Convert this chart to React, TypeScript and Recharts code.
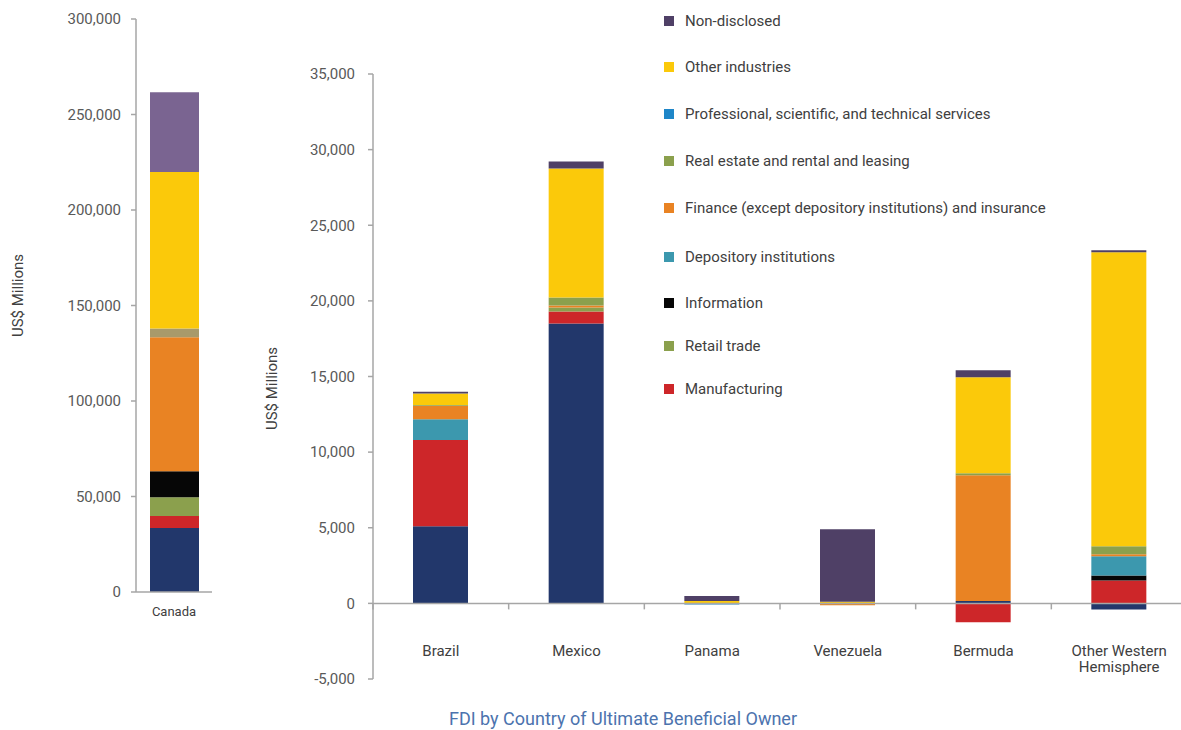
import React from "react";
import { BarChart, Bar, XAxis, YAxis, ReferenceLine, Legend, Label } from "recharts";

// Canada (left panel, own scale)
const canadaCategories = ["Canada"];
const canadaWholesale = [33500];
const canadaManufacturing = [6300];
const canadaRetail = [9800];
const canadaInformation = [13600];
const canadaDepository = [0];
const canadaFinance = [70200];
const canadaRealEstate = [4550];
const canadaProfessional = [0];
const canadaOther = [81900];
const canadaNonDisclosed = [41800];
const canadaTicks = [0, 50000, 100000, 150000, 200000, 250000, 300000];

// Other Western Hemisphere countries (right panel)
const countries = ["Brazil", "Mexico", "Panama", "Venezuela", "Bermuda", "Other Western Hemisphere"];
const wholesale = [5100, 18500, 0, 0, 150, -400];
const manufacturing = [5700, 790, 0, 0, -1250, 1520];
const retail = [0, 270, 0, 0, 0, 0];
const information = [0, 0, 0, 0, 0, 330];
const depository = [1370, 0, 0, 0, 0, 1260];
const finance = [900, 130, 0, -120, 8320, 130];
const realEstate = [50, 530, 0, 0, 130, 530];
const professional = [0, 0, -80, 0, 0, 0];
const other = [750, 8530, 150, 100, 6350, 19440];
const nonDisclosed = [130, 460, 340, 4800, 460, 140];
const countryTicks = [-5000, 0, 5000, 10000, 15000, 20000, 25000, 30000, 35000];

const seriesKeys = [
  { key: "wholesale", name: "Wholesale trade", color: "#22376B", legend: false },
  { key: "manufacturing", name: "Manufacturing", color: "#CD2629", legend: true },
  { key: "retail", name: "Retail trade", color: "#8BA04D", legend: true },
  { key: "information", name: "Information", color: "#060606", legend: true },
  { key: "depository", name: "Depository institutions", color: "#3C98AE", legend: true },
  { key: "finance", name: "Finance (except depository institutions) and insurance", color: "#E98323", legend: true },
  { key: "realEstate", name: "Real estate and rental and leasing", color: "#8BA04D", legend: true },
  { key: "professional", name: "Professional, scientific, and technical services", color: "#1E86C8", legend: true },
  { key: "other", name: "Other industries", color: "#FBC90A", legend: true },
  { key: "nonDisclosed", name: "Non-disclosed", color: "#4F4066", legend: true },
];

// row heights of the legend, top to bottom (the original spacing is uneven)
const legendRowHeights = [44, 47, 48, 46, 48, 49, 44, 42, 44];

// Canada panel uses slightly different shades for two series
const canadaColors: Record<string, string> = { realEstate: "#A89A6A", nonDisclosed: "#7A6491" };

const canadaData = canadaCategories.map((name, i) => ({
  name,
  wholesale: canadaWholesale[i],
  manufacturing: canadaManufacturing[i],
  retail: canadaRetail[i],
  information: canadaInformation[i],
  depository: canadaDepository[i],
  finance: canadaFinance[i],
  realEstate: canadaRealEstate[i],
  professional: canadaProfessional[i],
  other: canadaOther[i],
  nonDisclosed: canadaNonDisclosed[i],
}));

const countryData = countries.map((name, i) => ({
  name,
  wholesale: wholesale[i],
  manufacturing: manufacturing[i],
  retail: retail[i],
  information: information[i],
  depository: depository[i],
  finance: finance[i],
  realEstate: realEstate[i],
  professional: professional[i],
  other: other[i],
  nonDisclosed: nonDisclosed[i],
}));

const FONT = "Roboto, 'Open Sans', sans-serif";
const AXIS = "#A6A6A6";
const TICK_TEXT = "#595959";

// right panel geometry
const R_LEFT = 230;
const R_WIDTH = 960;
const R_MARGIN = { top: 74, right: 3, left: 0, bottom: 0 };
const R_YAXIS_W = 143;
const R_XAXIS_H = 51;
const R_PLOT_BOTTOM = 730 - R_XAXIS_H;
const Y_MIN = -5000;
const Y_MAX = 35000;
const zeroY = R_MARGIN.top + ((R_PLOT_BOTTOM - R_MARGIN.top) * Y_MAX) / (Y_MAX - Y_MIN);
const band = (R_WIDTH - R_MARGIN.right - R_YAXIS_W) / countries.length;

const fmt = (v: number) => v.toLocaleString("en-US");

function CountryTick({ x, y, payload }: any) {
  const lines = payload.value === "Other Western Hemisphere" ? ["Other Western", "Hemisphere"] : [payload.value];
  return (
    <g>
      <line x1={x - band / 2} x2={x - band / 2} y1={zeroY} y2={zeroY + 6} stroke={AXIS} strokeWidth={1.5} />
      <text x={x} y={y - 23} textAnchor="middle" fill="#404040" fontSize={15} fontFamily={FONT}>
        {lines.map((l: string, i: number) => (
          <tspan key={i} x={x} dy={i === 0 ? 0 : 16}>
            {l}
          </tspan>
        ))}
      </text>
    </g>
  );
}

function RotatedTitle({ viewBox, dx, dy }: any) {
  const cx = viewBox.x + dx;
  const cy = viewBox.y + viewBox.height / 2 + dy;
  return (
    <text
      x={cx}
      y={cy}
      transform={`rotate(-90, ${cx}, ${cy})`}
      textAnchor="middle"
      dominantBaseline="central"
      fill="#404040"
      fontSize={15}
      fontFamily={FONT}
    >
      US$ Millions
    </text>
  );
}

function LegendBox() {
  const items = [...seriesKeys].reverse().filter((s) => s.legend);
  return (
    <div style={{ fontFamily: FONT }}>
      {items.map((s, i) => (
        <div key={s.key} style={{ height: legendRowHeights[i], display: "flex", alignItems: "center" }}>
          <span style={{ width: 10, height: 10, background: s.color, marginRight: 11, display: "inline-block" }} />
          <span style={{ fontSize: 15, color: "#404040", whiteSpace: "nowrap" }}>{s.name}</span>
        </div>
      ))}
    </div>
  );
}

export default function App() {
  return (
    <div
      style={{
        position: "absolute",
        left: 0,
        top: 0,
        width: 1181,
        height: 730,
        overflow: "hidden",
        background: "#fff",
        fontFamily: FONT,
      }}
    >
      <div style={{ position: "absolute", left: 0, top: 0 }}>
        <BarChart
          width={215}
          height={630}
          data={canadaData}
          margin={{ top: 19, right: 3, left: 0, bottom: 0 }}
          barSize={49}
        >
          <XAxis
            dataKey="name"
            height={38}
            stroke={AXIS}
            strokeWidth={1.5}
            tickLine={false}
            tickMargin={9}
            tick={{ fill: "#404040", fontSize: 13, fontFamily: FONT }}
          />
          <YAxis
            width={136}
            domain={[0, 300000]}
            ticks={canadaTicks}
            tickFormatter={fmt}
            stroke={AXIS}
            strokeWidth={1.5}
            tickSize={5}
            tickMargin={10}
            tick={{ fill: TICK_TEXT, fontSize: 15, fontFamily: FONT }}
            interval={0}
          >
            <Label content={(p: any) => <RotatedTitle viewBox={p.viewBox} dx={18} dy={-10} />} />
          </YAxis>
          {seriesKeys.map((s) => (
            <Bar
              key={s.key}
              dataKey={s.key}
              name={s.name}
              stackId="a"
              fill={canadaColors[s.key] ?? s.color}
              isAnimationActive={false}
            />
          ))}
        </BarChart>
      </div>

      <div style={{ position: "absolute", left: R_LEFT, top: 0 }}>
        <BarChart
          width={R_WIDTH}
          height={730}
          data={countryData}
          margin={R_MARGIN}
          stackOffset="sign"
          barSize={55}
        >
          <XAxis
            dataKey="name"
            height={R_XAXIS_H}
            axisLine={false}
            tickLine={false}
            tickSize={0}
            tickMargin={0}
            interval={0}
            tick={<CountryTick />}
          />
          <YAxis
            width={R_YAXIS_W}
            domain={[Y_MIN, Y_MAX]}
            ticks={countryTicks}
            tickFormatter={fmt}
            stroke={AXIS}
            strokeWidth={1.5}
            tickSize={5}
            tickMargin={13}
            interval={0}
            tick={{ fill: TICK_TEXT, fontSize: 15, fontFamily: FONT }}
          >
            <Label content={(p: any) => <RotatedTitle viewBox={p.viewBox} dx={42} dy={12} />} />
          </YAxis>
          {seriesKeys.map((s) => (
            <Bar key={s.key} dataKey={s.key} name={s.name} stackId="a" fill={s.color} isAnimationActive={false} />
          ))}
          <ReferenceLine y={0} stroke={AXIS} strokeWidth={1.5} />
          <Legend
            layout="vertical"
            align="center"
            verticalAlign="middle"
            wrapperStyle={{ top: -1, left: 664 - R_LEFT, width: 430, height: 420 }}
            content={() => <LegendBox />}
          />
        </BarChart>
      </div>

      <div
        style={{
          position: "absolute",
          left: 423,
          top: 708,
          width: 400,
          textAlign: "center",
          fontSize: 18,
          color: "#4C73AE",
          fontFamily: FONT,
        }}
      >
        FDI by Country of Ultimate Beneficial Owner
      </div>
    </div>
  );
}
